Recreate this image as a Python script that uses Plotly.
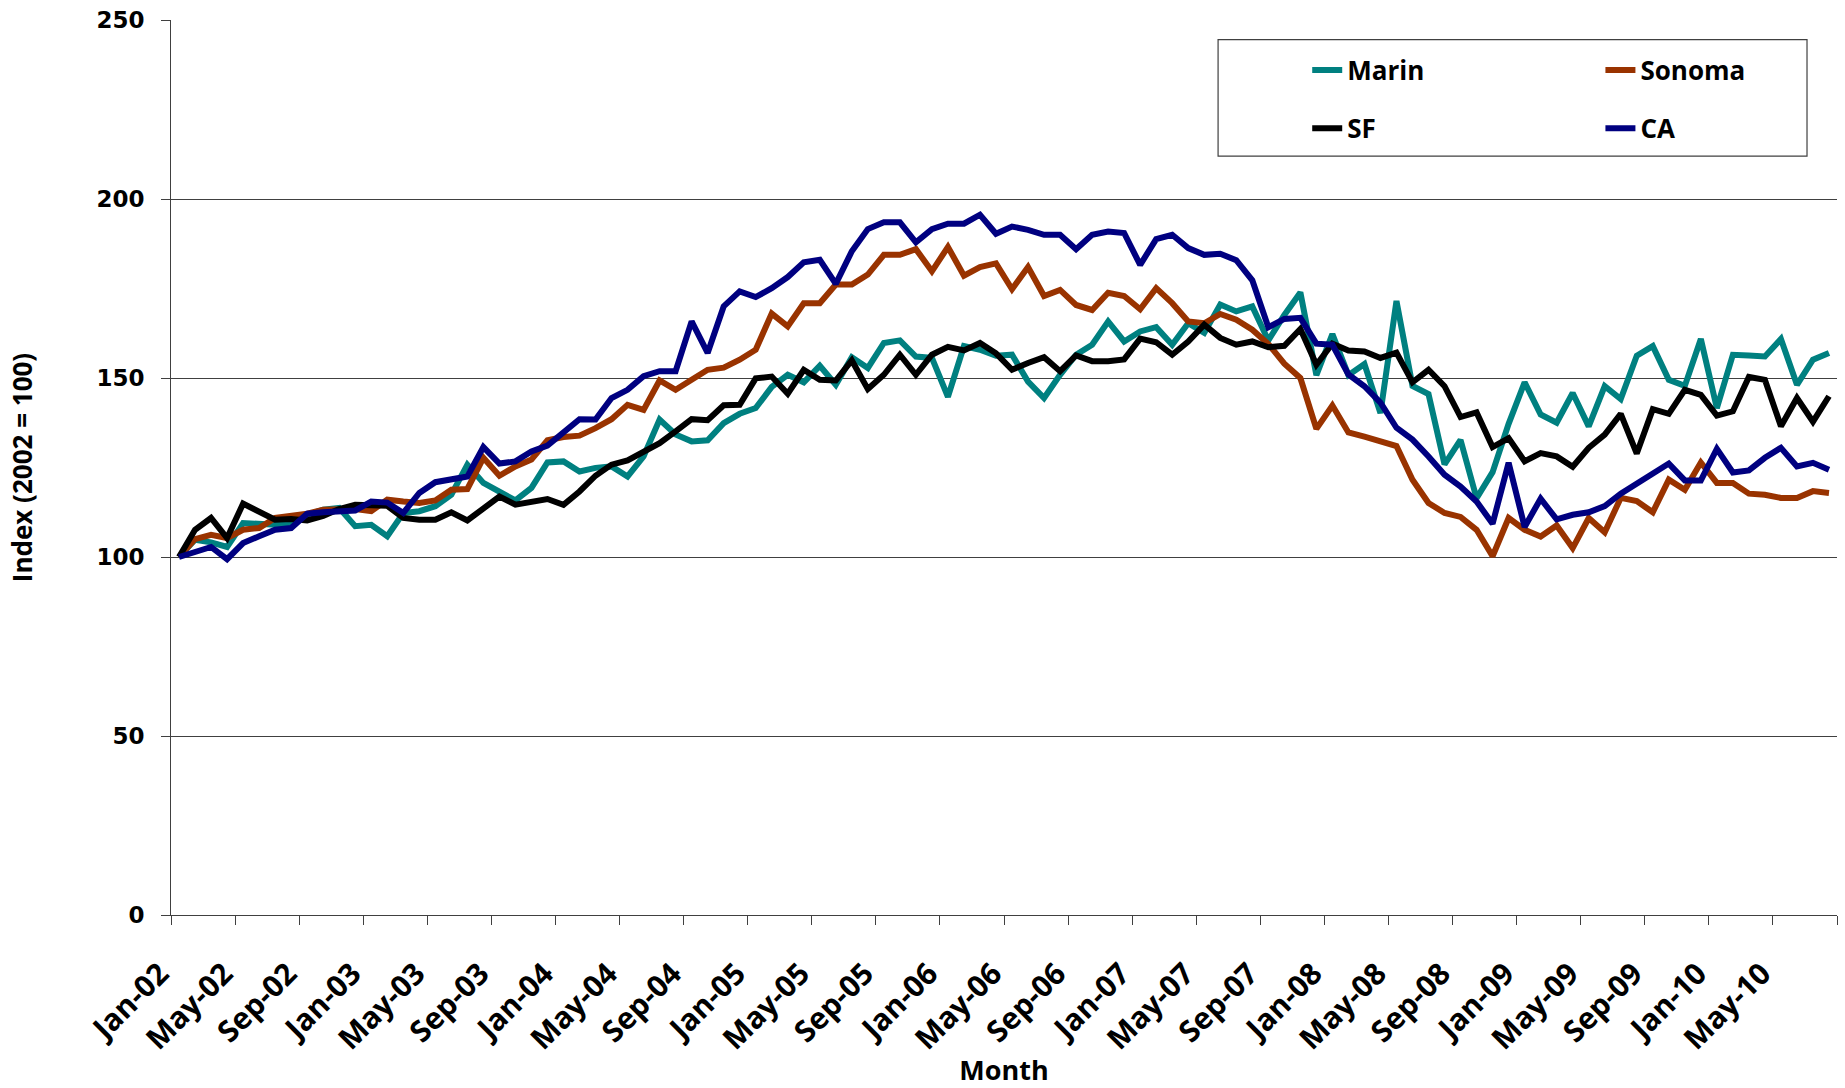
import plotly.graph_objects as go

# ---------------- data (monthly index, 2002 = 100) ----------------
years = ["02", "03", "04", "05", "06", "07", "08", "09", "10"]
month_names = ["Jan", "Feb", "Mar", "Apr", "May", "Jun", "Jul", "Aug", "Sep", "Oct", "Nov", "Dec"]
months = [f"{m}-{y}" for y in years for m in month_names][:104]  # Jan-02 .. Aug-10

marin = [100, 104.8, 104.1, 102.8, 109.5, 109.2, 109.0, 109.5, 111.8, 113.2, 113.7, 108.6,
         109.0, 105.8, 112.3, 112.8, 114.2, 117.4, 125.8, 120.7, 118.3, 115.8, 119.3, 126.4,
         126.7, 123.9, 124.9, 125.3, 122.5, 128.1, 138.4, 134.2, 132.3, 132.6, 137.4, 140.0,
         141.6, 147.5, 150.9, 148.8, 153.4, 148.1, 155.8, 152.8, 159.8, 160.5, 156.0, 155.6,
         144.7, 158.9, 157.9, 156.2, 156.5, 149.0, 144.4, 150.9, 156.5, 159.3, 165.8, 160.2,
         163.0, 164.2, 159.3, 165.3, 162.6, 170.5, 168.6, 170.0, 160.5, 167.6, 173.9, 150.8,
         162.3, 150.8, 153.9, 140.2, 171.5, 147.8, 145.5, 125.9, 132.7, 116.4, 123.7, 137.2,
         148.8, 139.8, 137.5, 145.8, 136.5, 147.7, 144.1, 156.2, 158.9, 149.5, 147.8, 160.9,
         141.6, 156.5, 156.3, 156.0, 160.9, 148.1, 155.1, 157.0]

sonoma = [100, 105.0, 106.2, 105.3, 107.6, 108.1, 110.9, 111.5, 112.1, 113.2, 113.4, 113.4,
          112.8, 116.0, 115.5, 115.1, 115.8, 118.8, 119.0, 127.7, 122.7, 125.3, 127.2, 132.6,
          133.5, 133.9, 136.0, 138.5, 142.5, 141.1, 149.3, 146.7, 149.5, 152.3, 152.9, 155.1,
          157.9, 168.0, 164.4, 170.9, 170.9, 176.1, 176.1, 178.9, 184.4, 184.4, 186.0, 179.8,
          186.6, 178.6, 181.0, 182.0, 174.8, 181.0, 172.9, 174.6, 170.4, 169.0, 173.8, 172.9,
          169.2, 175.1, 170.9, 165.8, 165.3, 167.9, 166.3, 163.5, 159.5, 154.0, 150.0, 135.8,
          142.3, 134.8, 133.6, 132.5, 131.0, 121.6, 115.1, 112.3, 111.2, 107.6, 100.2, 110.9,
          107.6, 105.7, 108.8, 102.5, 110.9, 106.9, 116.5, 115.6, 112.5, 121.6, 118.8, 126.4,
          120.7, 120.7, 117.7, 117.4, 116.5, 116.5, 118.4, 117.9]

sf = [100, 107.6, 110.9, 105.3, 114.9, 112.5, 110.4, 110.6, 110.2, 111.5, 113.4, 114.6,
      114.3, 114.3, 110.9, 110.4, 110.4, 112.5, 110.2, 113.4, 116.9, 114.6, 115.5, 116.2,
      114.6, 118.3, 122.7, 125.8, 127.0, 129.5, 131.8, 135.1, 138.5, 138.2, 142.4, 142.5,
      149.9, 150.4, 145.6, 152.3, 149.5, 149.3, 154.9, 146.9, 150.9, 156.5, 150.9, 156.5,
      158.7, 157.7, 159.8, 156.9, 152.3, 154.2, 155.8, 151.9, 156.3, 154.7, 154.7, 155.2,
      161.0, 160.0, 156.5, 160.2, 164.9, 161.2, 159.3, 160.2, 158.6, 159.0, 163.7, 153.7,
      159.6, 157.7, 157.4, 155.6, 157.1, 148.8, 152.3, 147.7, 139.1, 140.4, 130.7, 133.2,
      126.7, 129.0, 128.1, 125.2, 130.5, 134.2, 140.0, 128.9, 141.3, 140.0, 146.7, 145.3,
      139.5, 140.7, 150.3, 149.5, 136.5, 144.4, 137.8, 144.9]

ca = [100, 101.3, 102.8, 99.4, 103.9, 105.8, 107.6, 108.1, 112.1, 112.5, 112.8, 113.0,
      115.5, 115.2, 112.3, 117.9, 120.9, 121.6, 122.5, 130.7, 126.1, 126.7, 129.5, 131.1,
      134.6, 138.5, 138.4, 144.4, 146.7, 150.5, 151.9, 151.9, 165.8, 157.0, 170.0, 174.2,
      172.6, 175.1, 178.2, 182.3, 183.0, 176.3, 185.4, 191.6, 193.5, 193.5, 187.9, 191.6,
      193.1, 193.1, 195.6, 190.3, 192.3, 191.4, 190.0, 190.0, 186.0, 190.0, 190.9, 190.5,
      181.6, 188.8, 190.0, 186.3, 184.4, 184.7, 182.9, 177.3, 164.2, 166.5, 166.8, 159.6,
      159.3, 151.0, 147.7, 143.1, 136.1, 132.8, 128.1, 123.0, 119.7, 115.5, 109.3, 126.3,
      108.4, 116.3, 110.5, 111.8, 112.5, 114.2, 117.7, 120.5, 123.3, 126.1, 121.4, 121.4,
      130.2, 123.6, 124.2, 127.7, 130.5, 125.3, 126.3, 124.4]

tick_labels = ["Jan-02", "May-02", "Sep-02", "Jan-03", "May-03", "Sep-03", "Jan-04", "May-04",
               "Sep-04", "Jan-05", "May-05", "Sep-05", "Jan-06", "May-06", "Sep-06", "Jan-07",
               "May-07", "Sep-07", "Jan-08", "May-08", "Sep-08", "Jan-09", "May-09", "Sep-09",
               "Jan-10", "May-10", ""]

series = [("Marin", marin, "#008080"), ("Sonoma", sonoma, "#993300"),
          ("SF", sf, "#000000"), ("CA", ca, "#000080")]

# ---------------- figure ----------------
x = list(range(len(months)))
fig = go.Figure()
legend_ids = ["legend", "legend2", "legend3", "legend4"]
for (name, vals, color), lg in zip(series, legend_ids):
    fig.add_trace(go.Scatter(x=x, y=vals, name=name, mode="lines", legend=lg,
                             customdata=months, hovertemplate="%{customdata}: %{y}<extra>" + name + "</extra>",
                             line=dict(color=color, width=6)))

tickvals = [i - 0.5 for i in range(0, len(months) + 1, 4)]

legend_font = dict(family="Open Sans", size=26, color="black", weight="bold")
def leg(xp, yp):
    return dict(x=xp, y=yp, xanchor="left", yanchor="middle", bgcolor="rgba(0,0,0,0)",
                borderwidth=0, font=legend_font, itemwidth=30)

fig.update_layout(
    width=1845, height=1088,
    margin=dict(l=171, r=8, t=20, b=173),
    paper_bgcolor="white", plot_bgcolor="white",
    showlegend=True,
    legend=leg(0.682, 0.944),
    legend2=leg(0.858, 0.944),
    legend3=leg(0.682, 0.879),
    legend4=leg(0.858, 0.879),
    shapes=[dict(type="rect", xref="paper", yref="paper", x0=0.6285, x1=0.982, y0=0.848, y1=0.978,
                 line=dict(color="#404040", width=1.2), fillcolor="rgba(0,0,0,0)", layer="above")],
    xaxis=dict(
        range=[-0.5, len(months) - 0.5], tickmode="array", tickvals=tickvals, ticktext=tick_labels,
        tickangle=-45, ticks="outside", ticklen=9, tickcolor="#404040", tickwidth=1,
        showline=True, linecolor="#404040", linewidth=1, showgrid=False, zeroline=False,
        tickfont=dict(family="Open Sans", size=30, color="black", weight="bold"),
        ticklabelstandoff=19, ticklabelshift=-11, automargin=False,
        title=dict(text="Month", font=dict(family="Open Sans", size=27, color="black", weight="bold"),
                   standoff=2),
    ),
    yaxis=dict(
        range=[0, 250], tickmode="array", tickvals=[0, 50, 100, 150, 200, 250],
        ticks="outside", ticklen=9, tickcolor="#404040", tickwidth=1,
        showline=True, linecolor="#404040", linewidth=1,
        showgrid=True, gridcolor="#404040", gridwidth=1, zeroline=False,
        tickfont=dict(family="DejaVu Sans", size=23, color="black", weight="bold"),
        ticklabelstandoff=12, automargin=False,
        title=dict(text="Index (2002 = 100)", font=dict(family="Open Sans", size=26, color="black", weight="bold"),
                   standoff=56),
    ),
)

fig.write_html("out.html", config={"displayModeBar": False},
               post_script="document.body.style.margin='0';")
